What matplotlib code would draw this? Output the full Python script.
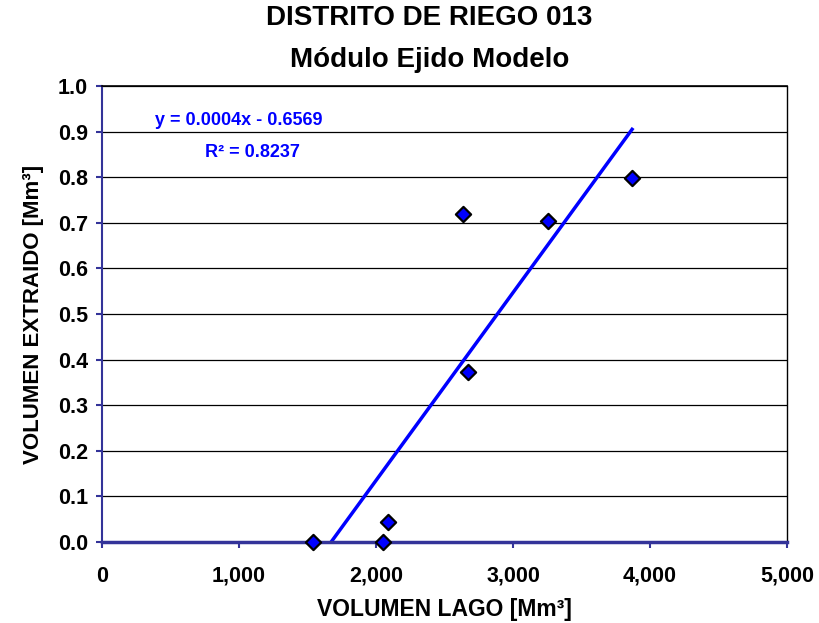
import numpy as np
import matplotlib.pyplot as plt

plt.rcParams['font.family'] = ['Liberation Sans', 'DejaVu Sans']

# volumen lago [Mm3] vs volumen extraido [Mm3]
lago = np.array([1540, 2051, 2088, 2635, 2672, 3255, 3869])
extraido = np.array([0.0, 0.0, 0.044, 0.719, 0.373, 0.704, 0.798])

x_ticks = [0, 1000, 2000, 3000, 4000, 5000]
x_labels = ['0', '1,000', '2,000', '3,000', '4,000', '5,000']
y_ticks = np.round(np.arange(0, 1.01, 0.1), 1)

# texto de la linea de tendencia tal como aparece en la grafica
eq_text = 'y = 0.0004x - 0.6569'
r2_text = 'R² = 0.8237'

m, b = np.polyfit(lago, extraido, 1)

fig = plt.figure(figsize=(8.2, 6.23), dpi=100)
ax = fig.add_axes([0.1244, 0.130, 0.8354, 0.732])

xs = np.array([lago.min(), lago.max()])
ax.plot(xs, m * xs + b, color='#0000ff', lw=2.5, zorder=3)
ax.scatter(lago, extraido, marker='D', s=60, color='#0000ff',
           edgecolor='black', linewidth=1.6, zorder=5, clip_on=False)

ax.set_xlim(0, 5000)
ax.set_ylim(0, 1.0)
ax.set_xticks(x_ticks)
ax.set_xticklabels(x_labels)
ax.set_yticks(y_ticks)
ax.set_yticklabels([f'{v:.1f}' for v in y_ticks])
ax.yaxis.grid(True, color='black', lw=0.9)
ax.set_axisbelow(True)

ax.spines['top'].set_linewidth(1.2)
ax.spines['right'].set_linewidth(1)
ax.spines['bottom'].set_color('#333399')
ax.spines['bottom'].set_linewidth(2.5)
ax.spines['bottom'].set_zorder(4)
ax.spines['left'].set_color('#333399')
ax.spines['left'].set_linewidth(1.5)
ax.tick_params(direction='out', length=4, width=1.5, color='#333399',
               labelsize=15.5)
ax.tick_params(axis='x', pad=13)
ax.tick_params(axis='y', pad=6)
for lab in ax.get_xticklabels() + ax.get_yticklabels():
    lab.set_fontweight('bold')

ax.set_xlabel('VOLUMEN LAGO [Mm³]', fontsize=16.5, fontweight='bold', labelpad=8)
ax.set_ylabel('VOLUMEN EXTRAIDO [Mm³]', fontsize=16, fontweight='bold', labelpad=10)

fig.text(0.524, 1 - 18 / 623, 'DISTRITO DE RIEGO 013', ha='center', va='center',
         fontsize=20, fontweight='bold')
fig.text(0.524, 1 - 60 / 623, 'Módulo Ejido Modelo', ha='center', va='center',
         fontsize=20, fontweight='bold')

ax.text(0.077, 0.925, eq_text, transform=ax.transAxes, va='center',
        color='#0000ff', fontsize=13, fontweight='bold')
ax.text(0.150, 0.855, r2_text, transform=ax.transAxes, va='center',
        color='#0000ff', fontsize=13, fontweight='bold')

fig.savefig('out.png', dpi=100)
